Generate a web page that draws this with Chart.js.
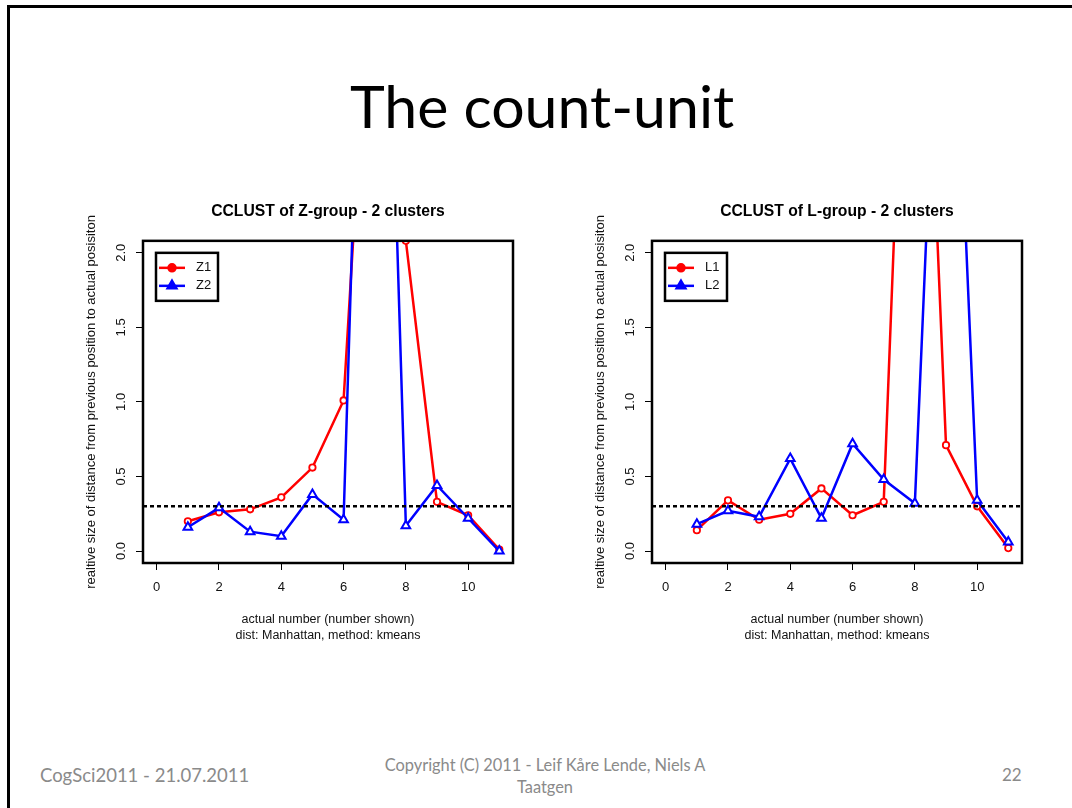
<!DOCTYPE html>
<html>
<head>
<meta charset="utf-8">
<title>The count-unit</title>
<script src="https://cdn.jsdelivr.net/npm/chart.js@4.4.0/dist/chart.umd.min.js"></script>
<style>
    html, body { margin: 0; padding: 0; background: #fff; }
    body { width: 1072px; height: 808px; position: relative; overflow: hidden; }
    .frame { position: absolute; left: 7px; top: 5px; width: 1200px; height: 900px;
             border-left: 3px solid #000; border-top: 3px solid #000; }
    .slide-title { position: absolute; left: 350px; top: 76px; font-family: Lato, "Open Sans", sans-serif;
                   font-size: 59px; line-height: 1; color: #000; white-space: nowrap; }
    .foot { position: absolute; font-family: Lato, "Open Sans", sans-serif; font-size: 17px;
            line-height: 22px; color: #8a8a8a; white-space: nowrap; }
    canvas { position: absolute; }
</style>
</head>
<body>
<div class="frame"></div>
<div class="slide-title">The count-unit</div>

<canvas id="chartZ" width="450" height="460" style="left:80px;top:195px;"></canvas>
<canvas id="chartL" width="450" height="460" style="left:589px;top:195px;"></canvas>

<div class="foot" style="left:40px;top:764px;font-size:18.5px;">CogSci2011 - 21.07.2011</div>
<div class="foot" style="left:0;width:1090px;top:754px;text-align:center;font-size:16.4px;">Copyright (C) 2011 - Leif Kåre Lende, Niels A<br>Taatgen</div>
<div class="foot" style="left:1002px;top:764px;">22</div>

<script>
// actual number shown (x) and the relative jump size per cluster
const numbers = [1, 2, 3, 4, 5, 6, 7, 8, 9, 10, 11];
const z1 = [0.20, 0.26, 0.28, 0.36, 0.56, 1.01, 4.5, 2.08, 0.33, 0.24, 0.01];
const z2 = [0.16, 0.29, 0.13, 0.10, 0.38, 0.21, 7.0, 0.17, 0.44, 0.22, 0.00];
const l1 = [0.14, 0.34, 0.21, 0.25, 0.42, 0.24, 0.33, 5.7, 0.71, 0.30, 0.02];
const l2 = [0.18, 0.27, 0.23, 0.62, 0.22, 0.72, 0.48, 0.32, 5.2, 0.34, 0.06];

const xTicks = [0, 2, 4, 6, 8, 10];
const yTicks = [0, 0.5, 1, 1.5, 2];
const cutOff = 0.3;

const FONT = '"Liberation Sans", Arial, sans-serif';
const RED = '#ff0000';
const BLUE = '#0000ff';

// =====================
// PLUGINS
// =====================

// dashed reference line
const cutLine = {
    id: 'cutLine',
    afterDatasetsDraw(chart) {
        const { ctx, chartArea: a, scales } = chart;
        const y = scales.y.getPixelForValue(cutOff);
        ctx.save();
        ctx.strokeStyle = '#000';
        ctx.lineWidth = 2.5;
        ctx.setLineDash([4, 3]);
        ctx.beginPath();
        ctx.moveTo(a.left, y);
        ctx.lineTo(a.right, y);
        ctx.stroke();
        ctx.restore();
    }
};

// box round the plot region + legend top-left
const frameAndLegend = {
    id: 'frameAndLegend',
    afterDraw(chart) {
        const { ctx, chartArea: a } = chart;
        ctx.save();
        ctx.strokeStyle = '#000';
        ctx.lineWidth = 2.5;
        ctx.strokeRect(a.left, a.top, a.right - a.left, a.bottom - a.top);

        const bx = a.left + 13, by = a.top + 12;
        ctx.fillStyle = '#fff';
        ctx.fillRect(bx, by, 62, 48);
        ctx.strokeRect(bx, by, 62, 48);

        chart.data.datasets.forEach((ds, i) => {
            const y = by + 15 + i * 18;
            ctx.strokeStyle = ds.borderColor;
            ctx.fillStyle = ds.borderColor;
            ctx.lineWidth = 2.5;
            ctx.beginPath();
            ctx.moveTo(bx + 3, y);
            ctx.lineTo(bx + 29, y);
            ctx.stroke();
            Chart.helpers.drawPoint(ctx, {
                pointStyle: ds.pointStyle,
                radius: ds.pointStyle === 'triangle' ? 5 : 3.5,
                borderWidth: 1,
                rotation: 0
            }, bx + 16, y);

            ctx.fillStyle = '#111';
            ctx.font = '13px ' + FONT;
            ctx.textBaseline = 'middle';
            ctx.textAlign = 'left';
            ctx.fillText(ds.label, bx + 40, y);
        });
        ctx.restore();
    }
};

// =====================
// RENDER CHART
// =====================
function toPoints(values) {
    return numbers.map((n, i) => ({ x: n, y: values[i] }));
}

function renderClusterChart(canvasId, title, names, first, second) {
    const ctx = document.getElementById(canvasId).getContext('2d');

    const tickGrid = {
        drawOnChartArea: false,
        drawTicks: true,
        tickLength: 7,
        color: '#000',
        lineWidth: 1
    };

    return new Chart(ctx, {
        type: 'line',
        data: {
            datasets: [{
                label: names[0],
                data: toPoints(first),
                borderColor: RED,
                borderWidth: 2.5,
                pointStyle: 'circle',
                pointRadius: 3.2,
                pointBorderWidth: 1.8,
                pointBorderColor: RED,
                pointBackgroundColor: '#fff',
                tension: 0,
                fill: false,
                order: 1
            }, {
                label: names[1],
                data: toPoints(second),
                borderColor: BLUE,
                borderWidth: 2.5,
                pointStyle: 'triangle',
                pointRadius: 5,
                pointBorderWidth: 2,
                pointBorderColor: BLUE,
                pointBackgroundColor: '#fff',
                tension: 0,
                fill: false,
                order: 0
            }]
        },
        options: {
            responsive: false,
            animation: false,
            events: [],
            layout: { padding: { left: 0, right: 17, top: 0, bottom: 0 } },
            plugins: {
                legend: { display: false },
                tooltip: { enabled: false },
                title: {
                    display: true,
                    fullSize: false,
                    text: title,
                    color: '#000',
                    font: { family: FONT, size: 15.7, weight: 'bold', lineHeight: 1.2 },
                    padding: { top: 7, bottom: 20 }
                }
            },
            scales: {
                x: {
                    type: 'linear',
                    min: -0.44,
                    max: 11.44,
                    afterBuildTicks: s => { s.ticks = xTicks.map(v => ({ value: v })); },
                    afterFit: s => { s.height = 92; },
                    border: { display: false },
                    grid: tickGrid,
                    ticks: {
                        color: '#111',
                        font: { family: FONT, size: 13 },
                        padding: 10,
                        maxRotation: 0,
                        autoSkip: false
                    },
                    title: {
                        display: true,
                        text: ['actual number (number shown)', 'dist: Manhattan, method: kmeans'],
                        color: '#111',
                        font: { family: FONT, size: 12.5, lineHeight: '16px' },
                        padding: { top: 0, bottom: 11 }
                    }
                },
                y: {
                    type: 'linear',
                    min: -0.08,
                    max: 2.08,
                    afterBuildTicks: s => { s.ticks = yTicks.map(v => ({ value: v })); },
                    afterFit: s => { s.width = 63; },
                    border: { display: false },
                    grid: tickGrid,
                    ticks: {
                        color: '#111',
                        font: { family: FONT, size: 13 },
                        padding: 6,
                        minRotation: 90,
                        maxRotation: 90,
                        crossAlign: 'center',
                        autoSkip: false,
                        callback: v => Number(v).toFixed(1)
                    },
                    title: {
                        display: true,
                        text: 'realtive size of distance from previous position to actual posisiton',
                        color: '#111',
                        font: { family: FONT, size: 13, lineHeight: 1.2 },
                        padding: { top: 4, bottom: 0 }
                    }
                }
            }
        },
        plugins: [cutLine, frameAndLegend]
    });
}

renderClusterChart('chartZ', 'CCLUST of Z-group - 2 clusters', ['Z1', 'Z2'], z1, z2);
renderClusterChart('chartL', 'CCLUST of L-group - 2 clusters', ['L1', 'L2'], l1, l2);
</script>
</body>
</html>
